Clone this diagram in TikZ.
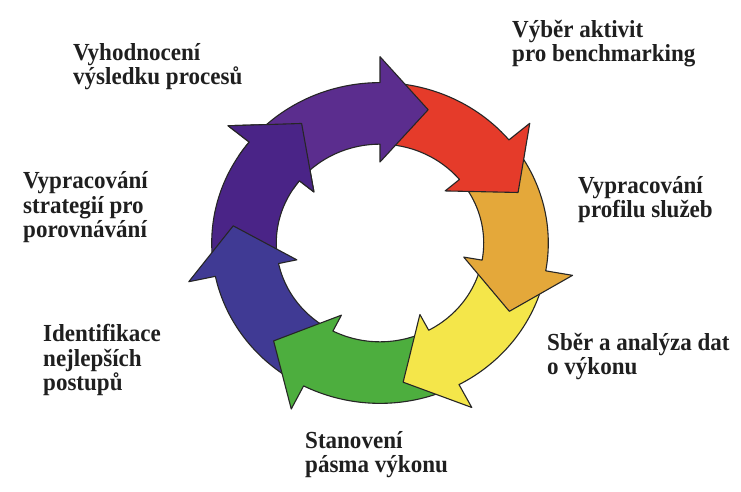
\documentclass[tikz,border=0pt]{standalone}
\usepackage{fontspec}
\setmainfont{Liberation Serif}[FakeStretch=0.94]
\definecolor{cPurple}{HTML}{5B2D8E}
\definecolor{cRed}{HTML}{E53B2A}
\definecolor{cOrange}{HTML}{E4A83A}
\definecolor{cYellow}{HTML}{F4E64A}
\definecolor{cGreen}{HTML}{4DAE3E}
\definecolor{cBlue}{HTML}{403A94}
\definecolor{cIndigo}{HTML}{4A2487}
% ring geometry (unit = outer radius)
\def\ri{0.61}  % inner edge of the band
\def\Ro{0.99}  % outer edge of the band
\def\rw{0.50}  % inner wing of a head
\def\Rw{1.15}  % outer wing of a head
\def\Rt{0.87}  % head tip
\def\hd{19}    % angular length of a head
% one clockwise arrow of the ring: tail angle #1, head base angle #2
\newcommand\ringarrow[3]{%
  \filldraw[ringpiece, fill=#3]
    plot[domain=#1:#2, samples=40] (\x:\Ro)
    -- (#2:\Rw) -- ({#2-\hd}:\Rt) -- (#2:\rw)
    -- plot[domain=#2:#1, samples=40] (\x:\ri) -- cycle;}
\tikzset{
  ringpiece/.style={draw=black!85, line width=1.1pt, line join=round},
  % anchored at the baseline of the last line
  lbl/.style={anchor=base west, align=left, inner sep=0pt, text=black!88,
    font=\fontsize{24.5}{24.5}\selectfont\bfseries},
}
\begin{document}
\begin{tikzpicture}[x=1pt, y=1pt]
\useasboundingbox (0,0) rectangle (741,492);
\fill[white] (0,0) rectangle (741,492);
\begin{scope}[shift={(380,249)}, xscale=170, yscale=162]
  \ringarrow{-168}{-219}{cIndigo}
  \ringarrow{-117}{-168}{cBlue}
  \ringarrow{-62}{-117}{cGreen}
  \ringarrow{-10}{-62}{cYellow}
  \ringarrow{40}{-10}{cOrange}
  \ringarrow{90}{40}{cRed}
  \ringarrow{141}{90}{cPurple}
  % the indigo head lies over the purple tail
  \begin{scope}
    \clip (0,0) -- (147:2) -- (115:2) -- cycle;
    \ringarrow{-168}{-219}{cIndigo}
  \end{scope}
\end{scope}
\node[lbl] (evaluate) at (73,407) {Vyhodnocení\\výsledku procesů};
\node[lbl] (select) at (512,430) {Výběr aktivit\\pro benchmarking};
\node[lbl] (strategy) at (23,254) {Vypracování\\strategií pro\\porovnávání};
\node[lbl] (profile) at (578,274) {Vypracování\\profilu služeb};
\node[lbl] (practice) at (43,101) {Identifikace\\nejlepších\\postupů};
\node[lbl] (collect) at (547,117) {Sběr a analýza dat\\o výkonu};
\node[lbl] (band) at (305,19) {Stanovení\\pásma výkonu};
\end{tikzpicture}
\end{document}
